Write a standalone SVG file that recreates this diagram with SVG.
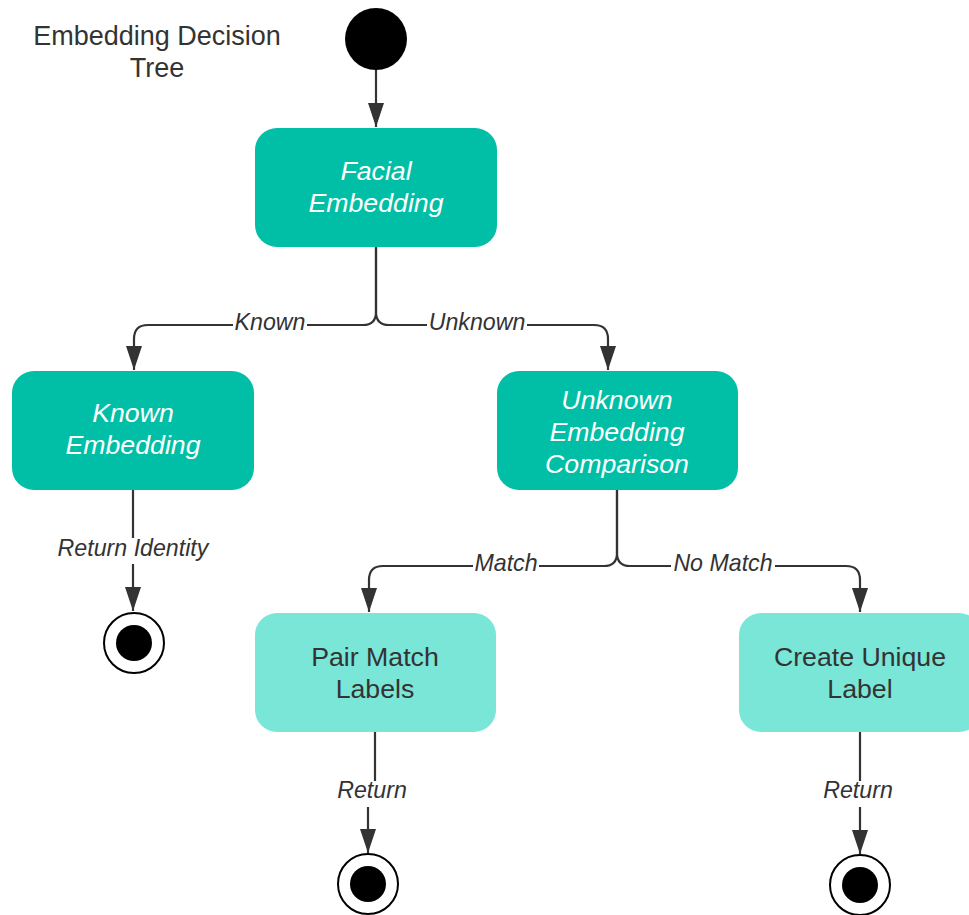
<svg xmlns="http://www.w3.org/2000/svg" width="969" height="915" viewBox="0 0 969 915">
<style>
  text { font-family: "Liberation Sans", Arial, sans-serif; }
  .title { font-size: 27px; fill: #333; text-anchor: middle; }
  .dark { fill: #00BFA6; }
  .light { fill: #79E6D8; }
  .dtext { font-size: 26.7px; fill: #fff; font-style: italic; text-anchor: middle; }
  .ltext { font-size: 26.7px; fill: #333; text-anchor: middle; }
  .lbl { font-size: 23.2px; fill: #333; font-style: italic; text-anchor: middle; }
  .conn { fill: none; stroke: #333; stroke-width: 2.2; }
  .bg { fill: #fff; }
</style>
<defs>
  <marker id="ah" viewBox="0 0 24 16" refX="24" refY="8" markerWidth="24" markerHeight="16" markerUnits="userSpaceOnUse" orient="auto">
    <path d="M0,0 L24,8 L0,16 z" fill="#333"/>
  </marker>
</defs>

<g id="title">
  <text class="title" x="157" y="45">Embedding Decision</text>
  <text class="title" x="157" y="77">Tree</text>
</g>

<g id="connectors">
  <path class="conn" d="M376,70 V127" marker-end="url(#ah)"/>
  <path class="conn" d="M376,247 V312 Q376,325 363,325 H148 Q134,325 134,339 V370" marker-end="url(#ah)"/>
  <path class="conn" d="M376,247 V312 Q376,325 389,325 H594 Q608,325 608,339 V370" marker-end="url(#ah)"/>
  <path class="conn" d="M617,490 V553 Q617,566 604,566 H383 Q369,566 369,580 V612" marker-end="url(#ah)"/>
  <path class="conn" d="M617,490 V553 Q617,566 630,566 H846 Q860,566 860,580 V612" marker-end="url(#ah)"/>
  <path class="conn" d="M133,490 V611" marker-end="url(#ah)"/>
  <path class="conn" d="M375,732 V790 L368,800 V853" marker-end="url(#ah)"/>
  <path class="conn" d="M860,732 V854" marker-end="url(#ah)"/>
  <rect class="bg" x="233" y="312" width="74" height="22"/>
  <text class="lbl" x="270" y="330">Known</text>
  <rect class="bg" x="427" y="312" width="100" height="22"/>
  <text class="lbl" x="477" y="330">Unknown</text>
  <rect class="bg" x="473" y="553" width="66" height="22"/>
  <text class="lbl" x="506" y="571">Match</text>
  <rect class="bg" x="671" y="553" width="104" height="22"/>
  <text class="lbl" x="723" y="571">No Match</text>
  <rect class="bg" x="54" y="538" width="160" height="26"/>
  <text class="lbl" x="133" y="556">Return Identity</text>
  <rect class="bg" x="333" y="781" width="78" height="26"/>
  <text class="lbl" x="372" y="798">Return</text>
  <rect class="bg" x="819" y="781" width="78" height="26"/>
  <text class="lbl" x="858" y="798">Return</text>
</g>

<g id="start">
  <circle cx="376" cy="39" r="31" fill="#000"/>
</g>

<g id="facial-embedding">
  <rect class="dark" x="255" y="128" width="242" height="119" rx="22"/>
  <text class="dtext" x="376" y="180">Facial</text>
  <text class="dtext" x="376" y="212">Embedding</text>
</g>

<g id="known-embedding">
  <rect class="dark" x="12" y="371" width="242" height="119" rx="22"/>
  <text class="dtext" x="133" y="422">Known</text>
  <text class="dtext" x="133" y="454">Embedding</text>
</g>

<g id="unknown-embedding-comparison">
  <rect class="dark" x="497" y="371" width="241" height="119" rx="22"/>
  <text class="dtext" x="617" y="409">Unknown</text>
  <text class="dtext" x="617" y="441">Embedding</text>
  <text class="dtext" x="617" y="473">Comparison</text>
</g>

<g id="pair-match-labels">
  <rect class="light" x="255" y="613" width="241" height="119" rx="22"/>
  <text class="ltext" x="375" y="666">Pair Match</text>
  <text class="ltext" x="375" y="698">Labels</text>
</g>

<g id="create-unique-label">
  <rect class="light" x="739" y="613" width="242" height="119" rx="22"/>
  <text class="ltext" x="860" y="666">Create Unique</text>
  <text class="ltext" x="860" y="698">Label</text>
</g>

<g id="end-known">
  <circle cx="134" cy="643" r="30" fill="#fff" stroke="#000" stroke-width="2"/>
  <circle cx="134" cy="643" r="18" fill="#000"/>
</g>

<g id="end-pair">
  <circle cx="368" cy="884" r="30" fill="#fff" stroke="#000" stroke-width="2"/>
  <circle cx="368" cy="884" r="18" fill="#000"/>
</g>

<g id="end-create">
  <circle cx="860" cy="885" r="30" fill="#fff" stroke="#000" stroke-width="2"/>
  <circle cx="860" cy="885" r="18" fill="#000"/>
</g>
</svg>
